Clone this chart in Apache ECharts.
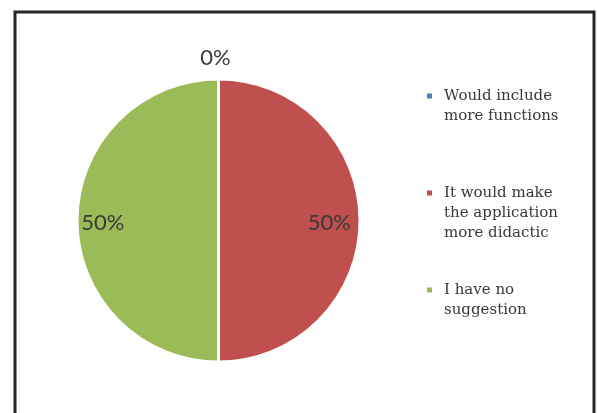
<!DOCTYPE html>
<html>
<head>
<meta charset="utf-8">
<script src="https://cdn.jsdelivr.net/npm/echarts@6/dist/echarts.min.js"></script>
<style>
  html, body { margin: 0; padding: 0; background: #fff; }
  #chart { width: 597px; height: 413px; }
</style>
</head>
<body>
<div id="chart"></div>
<script>
// Survey answers and their shares
const categories = [
  'Would include\nmore functions',
  'It would make\nthe application\nmore didactic',
  'I have no\nsuggestion'
];
const shares = [0, 50, 50];
const colors = ['#4F81BD', '#C0504D', '#9BBB59'];

// label nudges per slice (relative to the inside anchor)
const labelOffsets = [[-3, -89], [37, 2], [-42, 2]];

const chart = echarts.init(document.getElementById('chart'), null, { renderer: 'canvas' });

chart.setOption({
  animation: false,
  backgroundColor: '#fff',
  color: colors,
  graphic: [{
    type: 'rect',
    shape: { x: 15, y: 12, width: 579, height: 420 },
    style: { fill: 'none', stroke: '#262626', lineWidth: 3 },
    silent: true
  }],
  legend: {
    orient: 'vertical',
    left: 427,
    top: 66,
    padding: 0,
    itemGap: 17,
    itemWidth: 5,
    itemHeight: 5,
    icon: 'rect',
    itemStyle: { borderWidth: 0 },
    data: categories,
    // keep the marker level with the first line of a wrapped entry
    formatter: function (name) {
      const extra = name.split('\n').length - 1;
      return '\n'.repeat(extra) + name;
    },
    textStyle: {
      fontFamily: 'DejaVu Serif',
      fontSize: 15,
      lineHeight: 20,
      padding: [0, 0, 0, 7],
      color: '#383838'
    }
  },
  series: [{
    type: 'pie',
    center: [218.5, 220.5],
    radius: [0, 141.5],
    startAngle: 90,
    clockwise: true,
    avoidLabelOverlap: false,
    itemStyle: { borderColor: '#fff', borderWidth: 3 },
    label: {
      show: true,
      position: 'inside',
      formatter: '{d}%',
      fontFamily: 'Lato',
      fontSize: 22,
      color: '#3a3a3a'
    },
    labelLine: { show: false },
    emphasis: { disabled: true },
    data: categories.map(function (name, i) {
      return {
        name: name,
        value: shares[i],
        label: { offset: labelOffsets[i] }
      };
    })
  }]
});
</script>
</body>
</html>
